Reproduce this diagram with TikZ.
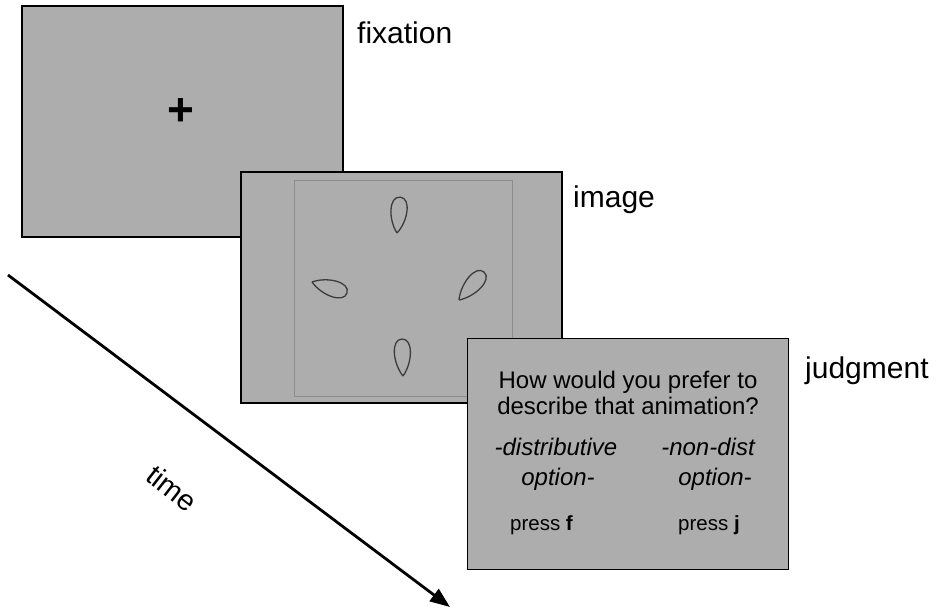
\documentclass[tikz,border=0pt]{standalone}
\usepackage{fontspec}
\setmainfont{Liberation Sans}
\usetikzlibrary{arrows.meta}
\definecolor{screen}{RGB}{173,173,173}
\definecolor{innerline}{RGB}{140,140,140}
\definecolor{leafline}{RGB}{60,60,60}
\tikzset{
  screenbox/.style={draw=black, line width=1.5pt, fill=screen, minimum width=321pt, minimum height=231pt, inner sep=0pt, outer sep=0pt},
  innerbox/.style={draw=innerline, line width=0.9pt, minimum width=218pt, minimum height=216pt, inner sep=0pt, outer sep=0pt},
  biglabel/.style={font=\fontsize{30}{36}\selectfont, anchor=base west, inner sep=0pt},
  qtext/.style={font=\fontsize{24}{28}\selectfont, anchor=base, inner sep=0pt},
  opttext/.style={font=\fontsize{24}{28}\selectfont\itshape, anchor=base, inner sep=0pt},
  presstext/.style={font=\fontsize{20.5}{24}\selectfont, anchor=base, inner sep=0pt},
  leafpath/.style={draw=leafline, line width=1.3pt},
  timearrow/.style={line width=2.8pt, -{Triangle[length=20pt,width=15pt]}}
}
\newcommand{\leafshape}[4]{% tip x, tip y, angle, length
  \begin{scope}[shift={(#1,#2)}, rotate=#3]
    \draw[leafpath] (0,0) .. controls (0.35*#4,9.9) and (#4,11.5) .. (#4,0)
                          .. controls (#4,-11.5) and (0.35*#4,-9.9) .. (0,0);
  \end{scope}}
\begin{document}
\begin{tikzpicture}[x=1pt, y=-1pt]
  \useasboundingbox (0,0) rectangle (940,608);
  % fixation screen
  \node[screenbox] (fix) at (182.5,121.5) {};
  \node[font=\fontsize{46}{46}\selectfont\bfseries, inner sep=0pt] (plus) at (180.5,112) {+};
  \node[biglabel] (lfix) at (357,43) {fixation};
  % image screen
  \node[screenbox] (img) at (401.5,287.5) {};
  \node[innerbox] (sq) at (403,288) {};
  \leafshape{397}{233}{85}{36}
  \leafshape{312}{282}{-17.4}{36.7}
  \leafshape{459}{300}{48}{37.5}
  \leafshape{403}{376}{91.5}{37}
  \node[biglabel] (limg) at (573,207) {image};
  % judgment screen
  \node[screenbox] (jud) at (628,454) {};
  \node[qtext] (q1) at (628,388) {How would you prefer to};
  \node[qtext] (q2) at (628,414) {describe that animation?};
  \node[opttext] (o1a) at (556,455) {-distributive};
  \node[opttext] (o1b) at (558,485) {option-};
  \node[opttext] (o2a) at (708,455) {-non-dist};
  \node[opttext] (o2b) at (715,485) {option-};
  \node[presstext] (p1) at (541.5,530) {press \textbf{f}};
  \node[presstext] (p2) at (709,530) {press \textbf{j}};
  \node[biglabel] (ljud) at (805,378) {judgment};
  % time arrow
  \coordinate (ts) at (8,275);
  \coordinate (te) at (450,607);
  \draw[timearrow] (ts) -- (te);
  \node[font=\fontsize{29}{34}\selectfont, rotate=-38, inner sep=0pt] (ltime) at (172,488) {time};
\end{tikzpicture}
\end{document}
